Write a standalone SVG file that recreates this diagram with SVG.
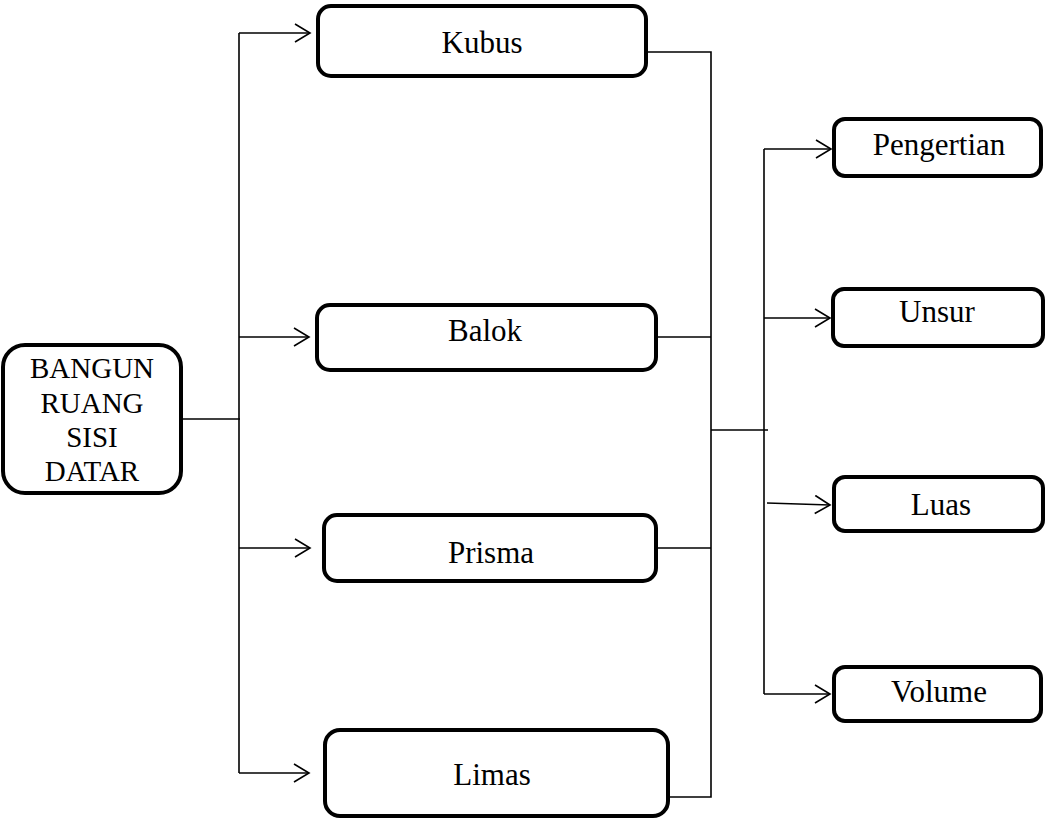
<svg xmlns="http://www.w3.org/2000/svg" width="1046" height="820" viewBox="0 0 1046 820">
<style>
.box{fill:#fff;stroke:#000;stroke-width:4}
.t{font-family:"Liberation Serif","Times New Roman",serif;font-size:31px;fill:#000;text-anchor:middle}
.tl{font-family:"Liberation Serif","Times New Roman",serif;font-size:29px;fill:#000;text-anchor:middle}
.c{fill:none;stroke:#000;stroke-width:1.6}
</style>
<defs>
<marker id="ah" markerWidth="20" markerHeight="20" refX="16" refY="10" orient="auto" markerUnits="userSpaceOnUse">
<path d="M1,1 L16,10 L1,19" fill="none" stroke="#000" stroke-width="1.6"/>
</marker>
</defs>
<g id="connectors">
<path class="c" d="M182,419 H240"/>
<path class="c" d="M239,33 V773"/>
<path class="c" d="M239,33 H310" marker-end="url(#ah)"/>
<path class="c" d="M239,337 H309" marker-end="url(#ah)"/>
<path class="c" d="M239,548 H310" marker-end="url(#ah)"/>
<path class="c" d="M239,773 H309" marker-end="url(#ah)"/>
<path class="c" d="M648,52 H711 V797 H665"/>
<path class="c" d="M647,337 H711"/>
<path class="c" d="M648,548 H711"/>
<path class="c" d="M711,430 H768"/>
<path class="c" d="M764,149 V694"/>
<path class="c" d="M764,149 H831" marker-end="url(#ah)"/>
<path class="c" d="M764,318 H830" marker-end="url(#ah)"/>
<path class="c" d="M767,503 L830,505" marker-end="url(#ah)"/>
<path class="c" d="M764,694 H830" marker-end="url(#ah)"/>
</g>
<g id="bangun">
<rect class="box" x="3" y="345" width="178" height="148" rx="22"/>
<text class="tl" x="92" y="378">BANGUN</text>
<text class="tl" x="92" y="413">RUANG</text>
<text class="tl" x="92" y="447">SISI</text>
<text class="tl" x="92" y="481">DATAR</text>
</g>
<g id="kubus">
<rect class="box" x="318" y="6" width="328" height="70" rx="13"/>
<text class="t" x="482" y="53">Kubus</text>
</g>
<g id="balok">
<rect class="box" x="317" y="305" width="339" height="65" rx="13"/>
<text class="t" x="485" y="341">Balok</text>
</g>
<g id="prisma">
<rect class="box" x="324" y="515" width="332" height="66" rx="13"/>
<text class="t" x="491" y="563">Prisma</text>
</g>
<g id="limas">
<rect class="box" x="325" y="730" width="343" height="86" rx="15"/>
<text class="t" x="492" y="785">Limas</text>
</g>
<g id="pengertian">
<rect class="box" x="834" y="119" width="207" height="57" rx="11"/>
<text class="t" x="939" y="155">Pengertian</text>
</g>
<g id="unsur">
<rect class="box" x="833" y="289" width="210" height="57" rx="11"/>
<text class="t" x="937" y="322">Unsur</text>
</g>
<g id="luas">
<rect class="box" x="834" y="477" width="209" height="54" rx="11"/>
<text class="t" x="941" y="515">Luas</text>
</g>
<g id="volume">
<rect class="box" x="834" y="667" width="207" height="54" rx="11"/>
<text class="t" x="939" y="702">Volume</text>
</g>
</svg>
